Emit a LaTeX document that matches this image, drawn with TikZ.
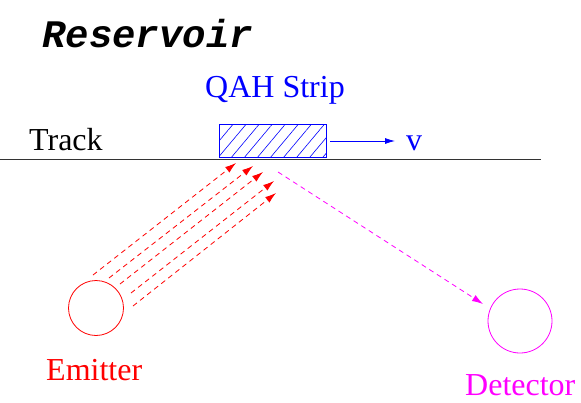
\documentclass[tikz,border=0pt]{standalone}
\usepackage{fontspec}
\setmainfont{Liberation Serif}
\newfontfamily\resfont{Liberation Mono}
\usetikzlibrary{arrows.meta,patterns.meta}
\definecolor{qblue}{RGB}{0,0,255}
\definecolor{qmag}{RGB}{255,0,255}
\tikzset{
  lbl/.style={inner sep=0pt, anchor=base west, font=\fontsize{32}{36}\selectfont},
  ray/.style={red, line width=0.8pt, dash pattern=on 5pt off 4pt, -{Latex[length=11pt,width=7pt]}},
  outray/.style={qmag, line width=0.8pt, dash pattern=on 5pt off 4pt, -{Latex[length=11pt,width=7pt]}},
  ball/.style={circle, draw, line width=0.8pt, inner sep=0pt},
}
\begin{document}
\begin{tikzpicture}[x=1pt,y=-1pt]
\useasboundingbox (0,0) rectangle (581,402);
% title
\node[inner sep=0pt, anchor=base west, font=\resfont\bfseries\itshape\fontsize{39}{42}\selectfont] (res) at (42,47) {Reservoir};
% labels
\node[lbl, text=qblue] (qah) at (205,97) {QAH Strip};
\node[lbl] (track) at (29,150) {Track};
\node[lbl, text=qblue] (vel) at (406,150) {v};
\node[lbl, text=red] (emlbl) at (46,380) {Emitter};
\node[lbl, text=qmag] (detlbl) at (465,395) {Detector};
% track line
\coordinate (tl) at (0,159);
\coordinate (tr) at (541,159);
\draw[line width=0.8pt, black!80] (tl) -- (tr);
% strip
\node[draw=qblue, line width=0.8pt,
      pattern={Lines[angle=50, distance=10pt, line width=0.6pt]}, pattern color=qblue,
      minimum width=107pt, minimum height=33pt, inner sep=0pt, anchor=north west] (strip) at (219,124) {};
\coordinate (vstart) at (330,141);
\coordinate (vend) at (395,141);
\draw[qblue, line width=0.8pt, -{Latex[length=10pt,width=6pt]}] (vstart) -- (vend);
% emitter and detector
\node[ball, red, minimum size=55pt] (emitter) at (96,308) {};
\node[ball, qmag, minimum size=64pt] (detector) at (520,321) {};
% rays
\coordinate (a1) at (93,275);  \coordinate (b1) at (236,163);
\coordinate (a2) at (109,278); \coordinate (b2) at (253,166);
\coordinate (a3) at (120,284); \coordinate (b3) at (263,172);
\coordinate (a4) at (131,293); \coordinate (b4) at (274,181);
\coordinate (a5) at (133,306); \coordinate (b5) at (276,193);
\foreach \i in {1,...,5} \draw[ray] (a\i) -- (b\i);
\coordinate (c1) at (278,172);
\coordinate (c2) at (483,304);
\draw[outray] (c1) -- (c2);
\end{tikzpicture}
\end{document}
